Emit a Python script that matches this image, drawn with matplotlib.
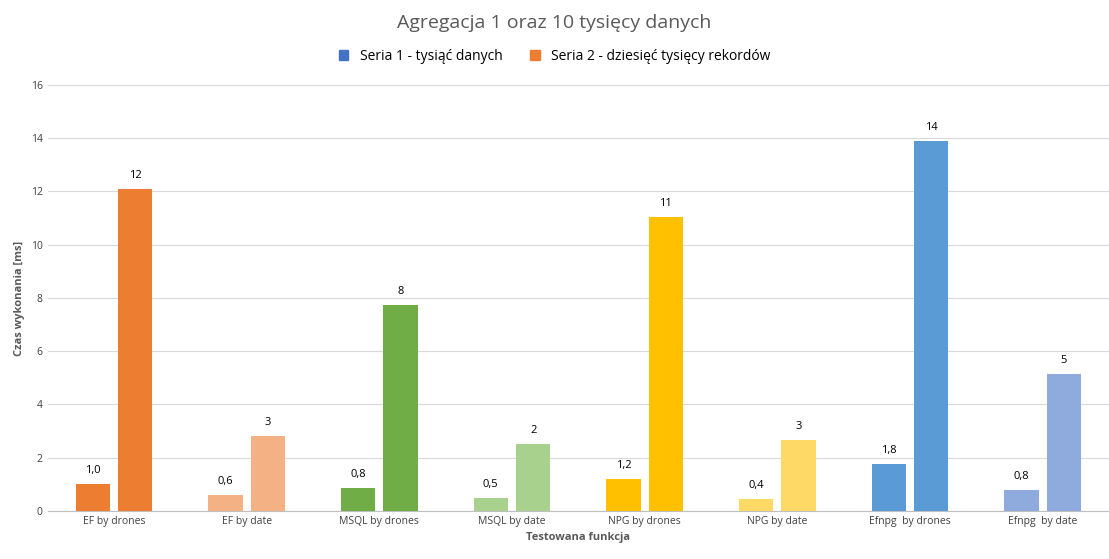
import numpy as np
import matplotlib
matplotlib.use("Agg")
import matplotlib.pyplot as plt
from matplotlib.patches import Patch

categories = ["EF by drones", "EF by date", "MSQL by drones", "MSQL by date",
              "NPG by drones", "NPG by date", "Efnpg  by drones", "Efnpg  by date"]
seria1 = [1.02, 0.60, 0.85, 0.50, 1.20, 0.43, 1.75, 0.78]
seria2 = [12.1, 2.8, 7.75, 2.5, 11.05, 2.65, 13.9, 5.15]
colors1 = ["#ED7D31", "#F4B183", "#70AD47", "#A9D18E", "#FFC000", "#FFD966", "#5B9BD5", "#8FAADC"]
colors2 = ["#ED7D31", "#F4B183", "#70AD47", "#A9D18E", "#FFC000", "#FFD966", "#5B9BD5", "#8FAADC"]

plt.rcParams['font.family'] = ['Open Sans', 'DejaVu Sans']
fig = plt.figure(figsize=(11.09, 5.59), dpi=100)
ax = fig.add_axes([0.043, 0.086, 0.957, 0.762])

x = np.arange(len(categories))
w = 0.26
b1 = ax.bar(x - 0.16, seria1, w, color=colors1, zorder=3)
b2 = ax.bar(x + 0.16, seria2, w, color=colors2, zorder=3)
for r, v in zip(b1, seria1):
    ax.text(r.get_x() + r.get_width() / 2, v + 0.3, f"{v:.1f}".replace(".", ","),
            ha="center", va="bottom", fontsize=8, color="#000000")
for r, v in zip(b2, seria2):
    ax.text(r.get_x() + r.get_width() / 2, v + 0.3, f"{v:.0f}",
            ha="center", va="bottom", fontsize=8, color="#000000")

ax.set_xlim(-0.5, len(categories) - 0.5)
ax.set_ylim(0, 16)
ax.set_yticks(range(0, 17, 2))
ax.set_xticks(x)
ax.set_xticklabels(categories)
ax.tick_params(axis="both", length=0, labelsize=7.5, colors="#404040")
ax.grid(axis="y", color="#D9D9D9", lw=0.8, zorder=0)
for s in ["top", "right", "left"]:
    ax.spines[s].set_visible(False)
ax.spines["bottom"].set_color("#BFBFBF")
ax.set_xlabel("Testowana funkcja", fontsize=8, fontweight="bold", color="#595959")
ax.set_ylabel("Czas wykonania [ms]", fontsize=8, fontweight="bold", color="#595959")

fig.suptitle("Agregacja 1 oraz 10 tysięcy danych", y=0.975, fontsize=14, color="#595959")
handles = [Patch(color="#4472C4"), Patch(color="#ED7D31")]
fig.legend(handles, ["Seria 1 - tysiąć danych", "Seria 2 - dziesięć tysięcy rekordów"],
           loc="upper center", bbox_to_anchor=(0.5, 0.935), ncol=2, frameon=False,
           fontsize=10, handlelength=0.7, handleheight=0.7, columnspacing=2)
fig.savefig("out.png", dpi=100)
